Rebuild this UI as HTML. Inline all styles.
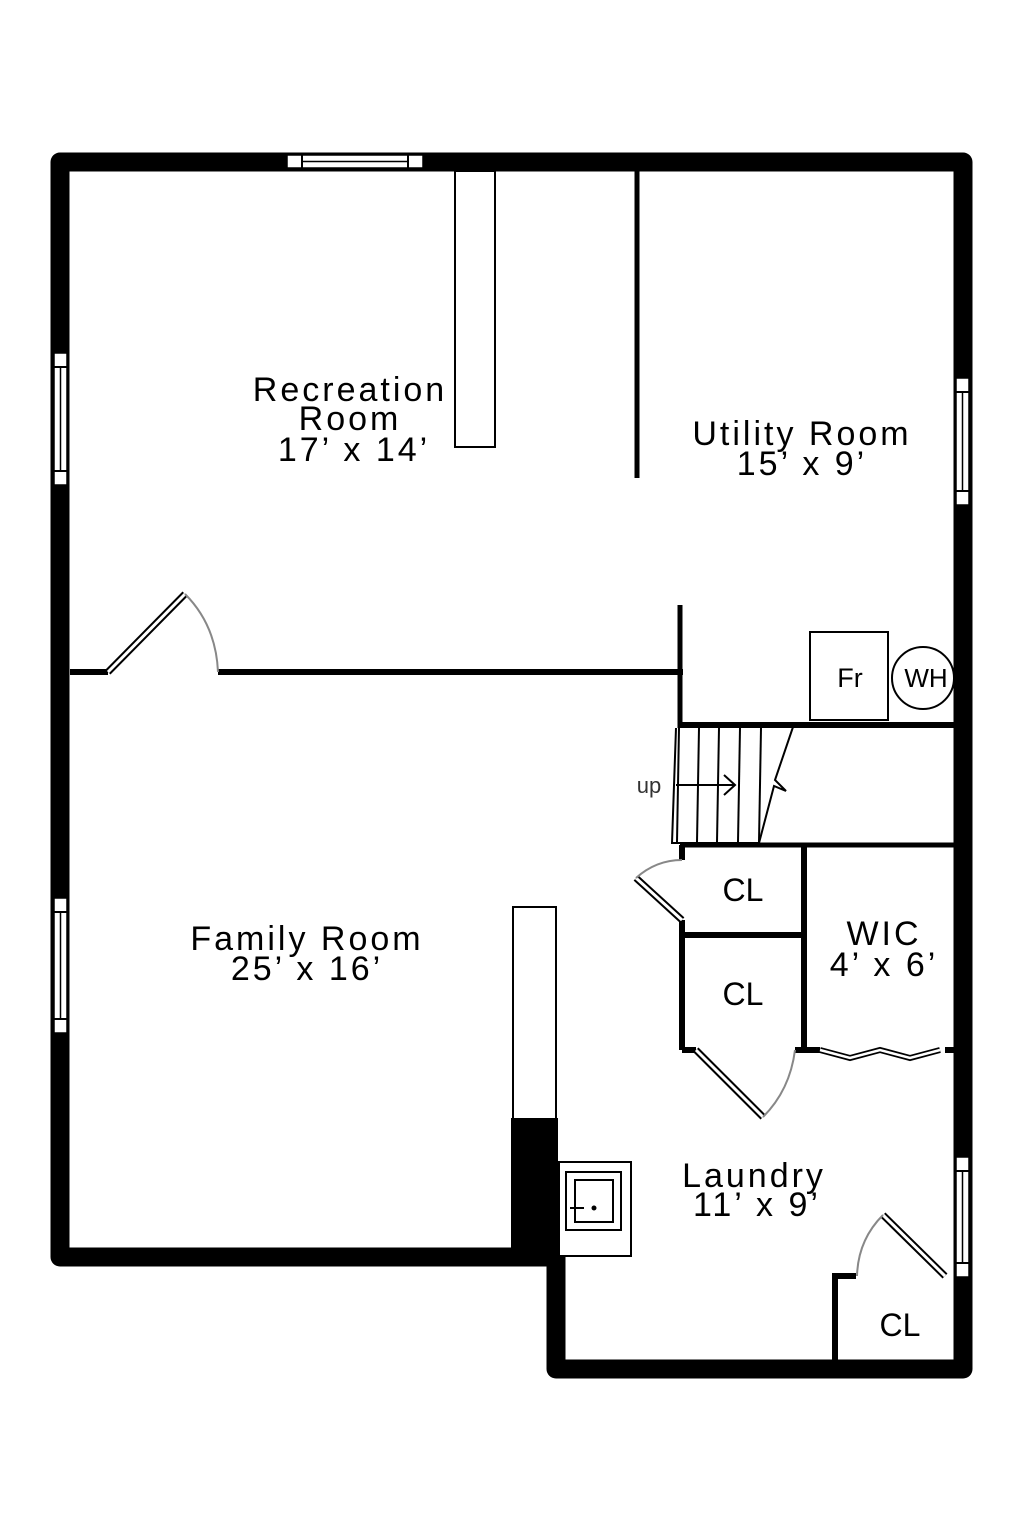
<!DOCTYPE html>
<html><head><meta charset="utf-8"><style>
html,body{margin:0;padding:0;background:#fff}
svg{display:block}
text{font-family:"Liberation Sans",sans-serif;fill:#000;text-anchor:middle}
.big{font-size:34px;letter-spacing:3px}
.cl{font-size:32px}
</style></head><body>
<svg width="1024" height="1536" viewBox="0 0 1024 1536" xmlns="http://www.w3.org/2000/svg">
<rect width="1024" height="1536" fill="#fff"/>
<path d="M60,162 H963 V1369 H556 V1257 H60 Z" fill="none" stroke="#000" stroke-width="19" stroke-linejoin="round"/>
<g fill="#fff" stroke="#000" stroke-width="1.5">
<rect x="287" y="155" width="136" height="13"/>
<line x1="302" y1="161.5" x2="408" y2="161.5"/>
<rect x="54" y="353" width="13" height="132"/>
<line x1="60.5" y1="367" x2="60.5" y2="471"/>
<rect x="54" y="898" width="13" height="135"/>
<line x1="60.5" y1="912" x2="60.5" y2="1019"/>
<rect x="956" y="378" width="13" height="127"/>
<line x1="962.5" y1="392" x2="962.5" y2="491"/>
<rect x="956" y="1157" width="13" height="120"/>
<line x1="962.5" y1="1171" x2="962.5" y2="1263"/>
</g>
<g fill="#fff" stroke="#000" stroke-width="2">
<line x1="302" y1="155" x2="302" y2="168"/><line x1="408" y1="155" x2="408" y2="168"/>
<line x1="54" y1="367" x2="67" y2="367"/><line x1="54" y1="471" x2="67" y2="471"/>
<line x1="54" y1="912" x2="67" y2="912"/><line x1="54" y1="1019" x2="67" y2="1019"/>
<line x1="956" y1="392" x2="969" y2="392"/><line x1="956" y1="491" x2="969" y2="491"/>
<line x1="956" y1="1171" x2="969" y2="1171"/><line x1="956" y1="1263" x2="969" y2="1263"/>
</g>
<g stroke="#000" stroke-width="6" fill="none">
<line x1="70" y1="672" x2="108" y2="672"/>
<line x1="218" y1="672" x2="683" y2="672"/>
<line x1="637" y1="171" x2="637" y2="478" stroke-width="5"/>
<line x1="680" y1="605" x2="680" y2="728" stroke-width="5"/>
<line x1="680" y1="725" x2="955" y2="725"/>
<line x1="680" y1="845" x2="955" y2="845" stroke-width="5"/>
<line x1="682" y1="845" x2="682" y2="860"/>
<line x1="682" y1="920" x2="682" y2="1050"/>
<line x1="680" y1="935" x2="805" y2="935"/>
<line x1="804" y1="845" x2="804" y2="1053"/>
<line x1="682" y1="1050" x2="696" y2="1050"/>
<line x1="795" y1="1050" x2="820" y2="1050"/>
<line x1="945" y1="1050" x2="955" y2="1050"/>
<path d="M835,1360 V1276 H856"/>
</g>
<rect x="455" y="171" width="40" height="276" fill="#fff" stroke="#000" stroke-width="2"/>
<rect x="513" y="907" width="43" height="212" fill="#fff" stroke="#000" stroke-width="2"/>
<rect x="511" y="1118" width="47" height="140" fill="#000"/>
<g stroke="#000" stroke-width="7" fill="none"><line x1="108" y1="672" x2="185" y2="594"/><line x1="696" y1="1050" x2="763" y2="1117"/><line x1="636" y1="878" x2="682" y2="920"/><line x1="945" y1="1276" x2="883" y2="1215"/></g>
<g stroke="#fff" stroke-width="3" fill="none"><line x1="108" y1="672" x2="185" y2="594"/><line x1="696" y1="1050" x2="763" y2="1117"/><line x1="636" y1="878" x2="682" y2="920"/><line x1="945" y1="1276" x2="883" y2="1215"/></g>
<g stroke="#888" stroke-width="2" fill="none">
<path d="M185,594 Q216,625 218,672"/>
<path d="M763,1117 Q790,1090 795,1050"/>
<path d="M636,878 Q656,860 682,860"/>
<path d="M883,1215 Q858,1240 857,1276"/>
</g>
<path d="M820,1050 L850,1058 L880,1050 L910,1058 L940,1050" fill="none" stroke="#000" stroke-width="6"/>
<path d="M820,1050 L850,1058 L880,1050 L910,1058 L940,1050" fill="none" stroke="#fff" stroke-width="2.5"/>
<g stroke="#000" stroke-width="2" fill="none">
<path d="M676,728 L672,843 L760,843"/>
<line x1="679" y1="728" x2="677" y2="842"/>
<line x1="699" y1="728" x2="697" y2="842"/>
<line x1="719" y1="728" x2="717" y2="842"/>
<line x1="740" y1="728" x2="738" y2="842"/>
<line x1="761" y1="728" x2="759" y2="842"/>
<path d="M793,727 L775,780 L786,791 L774,786 L759,843"/>
<line x1="676" y1="785" x2="735" y2="785"/>
<path d="M724,775 L735,785 L724,795"/>
</g>
<text x="649" y="793" style="font-size:22px;fill:#333">up</text>
<rect x="810" y="632" width="78" height="88" fill="#fff" stroke="#000" stroke-width="2"/>
<circle cx="923" cy="678" r="31" fill="#fff" stroke="#000" stroke-width="2"/>
<rect x="954" y="640" width="4" height="80" fill="#000"/>
<text x="850" y="687" style="font-size:27px">Fr</text>
<text x="926" y="687" style="font-size:26px">WH</text>
<g fill="#fff" stroke="#000" stroke-width="2">
<rect x="559" y="1162" width="72" height="94"/>
<rect x="566" y="1172" width="55" height="58"/>
<rect x="575" y="1180" width="38" height="42"/>
</g>
<line x1="570" y1="1208" x2="584" y2="1208" stroke="#000" stroke-width="2"/>
<circle cx="594" cy="1208" r="2.5" fill="#000"/>
<text class="big" x="350" y="401">Recreation</text>
<text class="big" x="350" y="430">Room</text>
<text class="big" x="354" y="461">17’ x 14’</text>
<text class="big" x="802" y="445">Utility Room</text>
<text class="big" x="802" y="475">15’ x 9’</text>
<text class="big" x="307" y="950">Family Room</text>
<text class="big" x="307" y="980">25’ x 16’</text>
<text class="big" x="884" y="945">WIC</text>
<text class="big" x="884" y="976">4’ x 6’</text>
<text class="big" x="754" y="1187">Laundry</text>
<text class="big" x="757" y="1216">11’ x 9’</text>
<text class="cl" x="743" y="901">CL</text>
<text class="cl" x="743" y="1005">CL</text>
<text class="cl" x="900" y="1336">CL</text>
</svg>
</body></html>
